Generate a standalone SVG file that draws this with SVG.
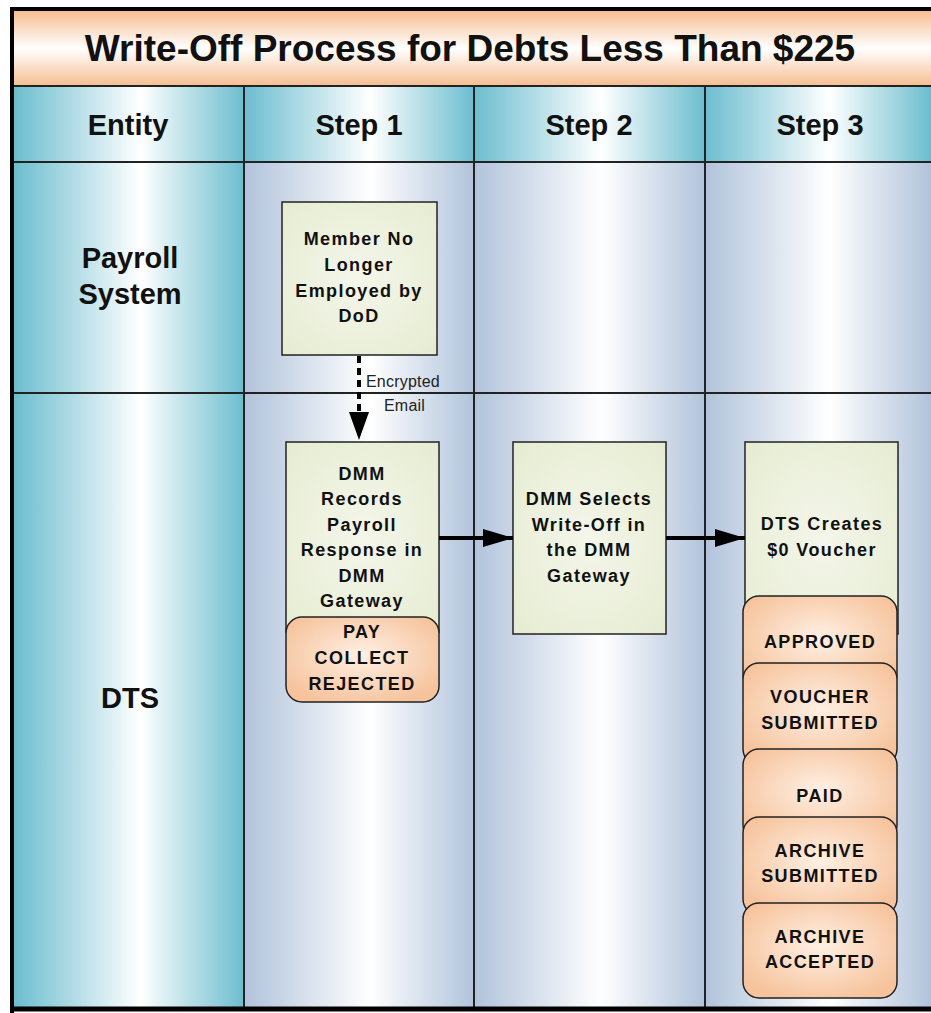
<svg xmlns="http://www.w3.org/2000/svg" width="931" height="1013" viewBox="0 0 931 1013">
<defs>
  <linearGradient id="gTitle" x1="0" y1="0" x2="0" y2="1">
    <stop offset="0" stop-color="#f6bd90"/>
    <stop offset="0.5" stop-color="#ffffff"/>
    <stop offset="1" stop-color="#f6bd90"/>
  </linearGradient>
  <linearGradient id="gTeal" x1="0" y1="0" x2="1" y2="0">
    <stop offset="0" stop-color="#6cbdcf"/>
    <stop offset="0.55" stop-color="#ffffff"/>
    <stop offset="1" stop-color="#6cbdcf"/>
  </linearGradient>
  <linearGradient id="gStep" x1="0" y1="0" x2="1" y2="0">
    <stop offset="0" stop-color="#b1c3db"/>
    <stop offset="0.55" stop-color="#ffffff"/>
    <stop offset="1" stop-color="#b1c3db"/>
  </linearGradient>
  <radialGradient id="gOrange" cx="0.5" cy="0.45" r="0.6">
    <stop offset="0" stop-color="#fff0e4"/>
    <stop offset="1" stop-color="#f6c39c"/>
  </radialGradient>
  <radialGradient id="gGreen" cx="0.5" cy="0.5" r="0.7">
    <stop offset="0" stop-color="#f4f6ea"/>
    <stop offset="1" stop-color="#e6ecd2"/>
  </radialGradient>
  <marker id="arrH" markerUnits="userSpaceOnUse" markerWidth="30" markerHeight="18" refX="30" refY="9" orient="auto">
    <path d="M0,0 L30,9 L0,18 Z" fill="#000"/>
  </marker>
  <marker id="arrV" markerUnits="userSpaceOnUse" markerWidth="28" markerHeight="20" refX="28" refY="10" orient="auto">
    <path d="M0,0 L28,10 L0,20 Z" fill="#000"/>
  </marker>
</defs>
<style>
  .hdr { font-family: "Liberation Sans", Arial, sans-serif; font-weight: bold; font-size: 29px; fill: #111; text-anchor: middle; }
  .ttl { font-family: "Liberation Sans", Arial, sans-serif; font-weight: bold; font-size: 37px; fill: #111; text-anchor: middle; }
  .box { fill: url(#gGreen); stroke: #222; stroke-width: 1.5; }
  .st { fill: url(#gOrange); stroke: #222; stroke-width: 1.5; }
  .bt { font-family: "Liberation Sans", Arial, sans-serif; font-weight: bold; font-size: 18px; fill: #111; text-anchor: middle; letter-spacing: 1.4px; }
  .lbl { font-family: "Liberation Sans", Arial, sans-serif; font-size: 16px; fill: #222; letter-spacing: 0.2px; }
  .grid { stroke: #222; stroke-width: 2; fill: none; }
  .conn { stroke: #000; stroke-width: 4; fill: none; }
</style>

<g id="background">
  <rect x="14" y="11" width="917" height="75" fill="url(#gTitle)"/>
  <rect x="14" y="86" width="230" height="921" fill="url(#gTeal)"/>
  <rect x="244" y="86" width="230" height="76" fill="url(#gTeal)"/>
  <rect x="474" y="86" width="231" height="76" fill="url(#gTeal)"/>
  <rect x="705" y="86" width="226" height="76" fill="url(#gTeal)"/>
  <rect x="244" y="162" width="230" height="845" fill="url(#gStep)"/>
  <rect x="474" y="162" width="231" height="845" fill="url(#gStep)"/>
  <rect x="705" y="162" width="226" height="845" fill="url(#gStep)"/>
  <line class="grid" x1="14" y1="86" x2="931" y2="86"/>
  <line class="grid" x1="14" y1="162" x2="931" y2="162"/>
  <line class="grid" x1="14" y1="393" x2="931" y2="393"/>
  <line class="grid" x1="244" y1="86" x2="244" y2="1007"/>
  <line class="grid" x1="474" y1="86" x2="474" y2="1007"/>
  <line class="grid" x1="705" y1="86" x2="705" y2="1007"/>
  <line x1="12" y1="7" x2="12" y2="1013" stroke="#000" stroke-width="4"/>
  <line x1="10" y1="9" x2="931" y2="9" stroke="#000" stroke-width="4"/>
  <line x1="10" y1="1009" x2="931" y2="1009" stroke="#000" stroke-width="5"/>
</g>

<g id="title">
  <text class="ttl" x="470" y="61">Write-Off Process for Debts Less Than $225</text>
</g>

<g id="headers">
  <text class="hdr" x="128" y="135">Entity</text>
  <text class="hdr" x="359" y="135">Step 1</text>
  <text class="hdr" x="589" y="135">Step 2</text>
  <text class="hdr" x="820" y="135">Step 3</text>
  <text class="hdr" x="130" y="268">Payroll</text>
  <text class="hdr" x="130" y="304">System</text>
  <text class="hdr" x="130" y="708">DTS</text>
</g>

<g id="member">
  <rect class="box" x="282" y="202" width="155" height="153"/>
  <text class="bt" x="359" y="245">Member No</text>
  <text class="bt" x="359" y="271">Longer</text>
  <text class="bt" x="359" y="297">Employed by</text>
  <text class="bt" x="359" y="322">DoD</text>
</g>

<g id="dmm-records">
  <rect class="box" x="286" y="442" width="153" height="190"/>
  <text class="bt" x="362" y="480">DMM</text>
  <text class="bt" x="362" y="505">Records</text>
  <text class="bt" x="362" y="531">Payroll</text>
  <text class="bt" x="362" y="556">Response in</text>
  <text class="bt" x="362" y="582">DMM</text>
  <text class="bt" x="362" y="607">Gateway</text>
</g>

<g id="pay-collect-rejected">
  <rect class="st" x="286" y="617" width="153" height="85" rx="16"/>
  <text class="bt" x="362" y="638">PAY</text>
  <text class="bt" x="362" y="664">COLLECT</text>
  <text class="bt" x="362" y="690">REJECTED</text>
</g>

<g id="dmm-selects">
  <rect class="box" x="513" y="442" width="153" height="192"/>
  <text class="bt" x="589" y="505">DMM Selects</text>
  <text class="bt" x="589" y="531">Write-Off in</text>
  <text class="bt" x="589" y="556">the DMM</text>
  <text class="bt" x="589" y="582">Gateway</text>
</g>

<g id="dts-creates">
  <rect class="box" x="745" y="442" width="153" height="192"/>
  <text class="bt" x="822" y="530">DTS Creates</text>
  <text class="bt" x="822" y="556">$0 Voucher</text>
</g>

<g id="approved">
  <rect class="st" x="743" y="596" width="154" height="95" rx="16"/>
  <text class="bt" x="820" y="648">APPROVED</text>
</g>
<g id="voucher-submitted">
  <rect class="st" x="743" y="663" width="154" height="102" rx="16"/>
  <text class="bt" x="820" y="703">VOUCHER</text>
  <text class="bt" x="820" y="729">SUBMITTED</text>
</g>
<g id="paid">
  <rect class="st" x="743" y="749" width="154" height="92" rx="16"/>
  <text class="bt" x="820" y="802">PAID</text>
</g>
<g id="archive-submitted">
  <rect class="st" x="743" y="817" width="154" height="98" rx="16"/>
  <text class="bt" x="820" y="857">ARCHIVE</text>
  <text class="bt" x="820" y="882">SUBMITTED</text>
</g>
<g id="archive-accepted">
  <rect class="st" x="743" y="903" width="154" height="95" rx="16"/>
  <text class="bt" x="820" y="943">ARCHIVE</text>
  <text class="bt" x="820" y="968">ACCEPTED</text>
</g>

<g id="connectors">
  <line x1="359" y1="356" x2="359" y2="440" stroke="#000" stroke-width="4" stroke-dasharray="7,5" marker-end="url(#arrV)"/>
  <text class="lbl" x="366" y="387">Encrypted</text>
  <text class="lbl" x="384" y="411">Email</text>
  <line class="conn" x1="439" y1="538" x2="513" y2="538" marker-end="url(#arrH)"/>
  <line class="conn" x1="666" y1="538" x2="745" y2="538" marker-end="url(#arrH)"/>
</g>
</svg>
